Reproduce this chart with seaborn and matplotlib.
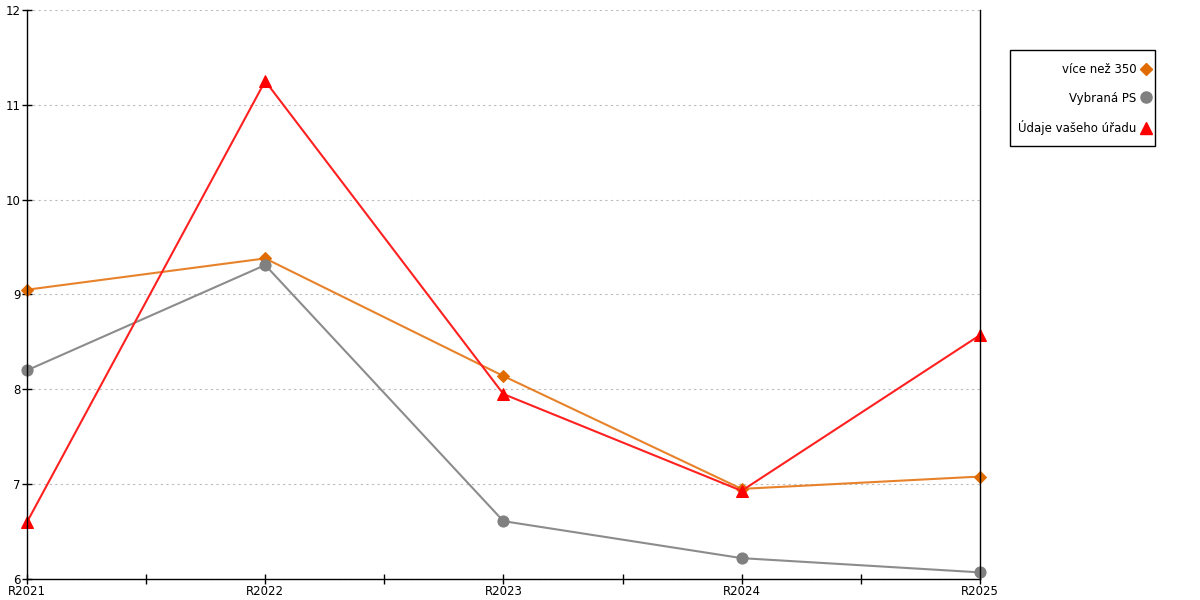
import numpy as np
import pandas as pd
import seaborn as sns
import matplotlib.pyplot as plt
from matplotlib.lines import Line2D
from matplotlib.patches import Rectangle

years = ['R2021', 'R2022', 'R2023', 'R2024', 'R2025']
vice_nez_350 = [9.05, 9.38, 8.14, 6.95, 7.08]
vybrana_ps = [8.20, 9.31, 6.61, 6.22, 6.07]
udaje_uradu = [6.60, 11.25, 7.95, 6.93, 8.57]

series = [
    ('více než 350', vice_nez_350, '#e8822a', '#e06c00', 'D', 6),
    ('Vybraná PS', vybrana_ps, '#8c8c8c', '#808080', 'o', 8),
    ('Údaje vašeho úřadu', udaje_uradu, '#ff2020', '#ff0000', '^', 9),
]

sns.set_style('white')
plt.rcParams['font.family'] = ['DejaVu Sans']

fig = plt.figure(figsize=(12, 6), dpi=100)
ax = fig.add_axes([0.0225, 0.035, 0.794, 0.9485])

xs = np.arange(len(years))
for name, vals, lc, mc, mk, ms in series:
    df = pd.DataFrame({'x': xs, 'y': vals})
    sns.lineplot(data=df, x='x', y='y', ax=ax, color=lc, linewidth=1.5,
                 marker=mk, markersize=ms, markerfacecolor=mc,
                 markeredgecolor=mc, clip_on=False)

ax.set_xlim(0, 4)
ax.set_ylim(6, 12)
ax.set_xticks(xs)
ax.set_xticklabels(years)
ax.set_xticks(np.arange(0.5, 4, 1), minor=True)
ax.set_yticks(range(6, 13))
ax.set_xlabel('')
ax.set_ylabel('')

ax.grid(axis='y', color='#bbbbbb', linestyle=(0, (2, 3)), linewidth=0.8)
ax.grid(axis='x', visible=False)
ax.set_axisbelow(True)

for s in ['left', 'bottom', 'right']:
    ax.spines[s].set_visible(True)
    ax.spines[s].set_color('black')
    ax.spines[s].set_linewidth(1)
ax.spines['top'].set_visible(False)

ax.tick_params(axis='both', which='both', direction='inout', length=7,
               width=1, color='black', labelcolor='black', labelsize=8.5,
               pad=1)
ax.tick_params(axis='x', which='both', bottom=True, top=False)
ax.tick_params(axis='y', left=True, right=False)

# legend box drawn separately so its padding matches the reference
fig.patches.append(Rectangle((1010 / 1200, 1 - 146 / 600), 145 / 1200,
                             96 / 600, transform=fig.transFigure,
                             facecolor='white', edgecolor='black',
                             linewidth=1, zorder=1))

handles = [Line2D([], [], linestyle='none', marker=mk, color=mc,
                  markersize=ms, label=name)
           for name, vals, lc, mc, mk, ms in series]
leg = fig.legend(handles=handles, loc='upper right',
                 bbox_to_anchor=(1151 / 1200, 1 - 63 / 600),
                 markerfirst=False, fontsize=8.5, frameon=False,
                 labelspacing=1.32, handlelength=0.8, handletextpad=0.45,
                 borderpad=0, borderaxespad=0)
leg.set_zorder(2)
for t in leg.get_texts():
    t.set_ha('right')
    t.set_color('black')

fig.savefig('out.png', dpi=100)
